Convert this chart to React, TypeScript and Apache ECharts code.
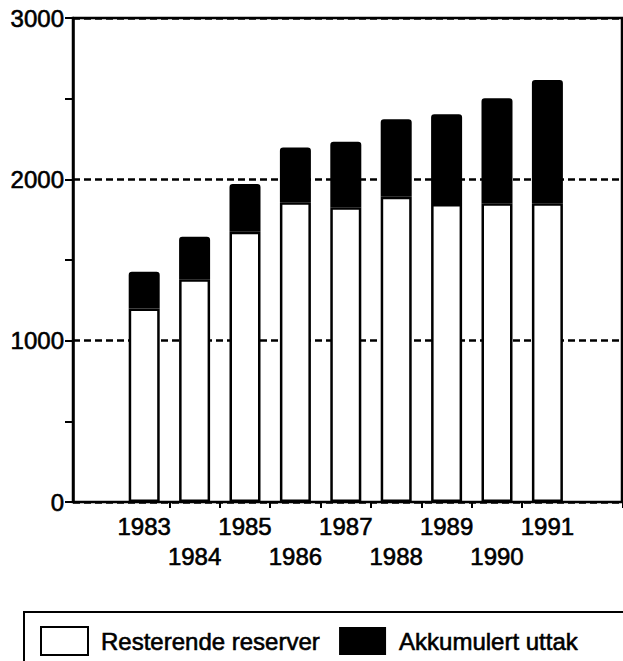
import React, { useEffect, useRef } from "react";
import * as echarts from "echarts";

const years = ["1983", "1984", "1985", "1986", "1987", "1988", "1989", "1990", "1991"];
const resterendeReserver = [1200, 1380, 1675, 1858, 1827, 1892, 1847, 1851, 1851];
const akkumulertUttak = [227, 264, 296, 340, 406, 480, 556, 651, 765];
const yTicks = [0, 1000, 2000, 3000];

const FONT = '"Liberation Sans", Arial, Helvetica, sans-serif';
const INK = { textBorderColor: "#000", textBorderWidth: 0.6 };

export default function App() {
  const ref = useRef<HTMLDivElement>(null);
  useEffect(() => {
    if (!ref.current) return;
    const chart = echarts.init(ref.current, null, { renderer: "svg" });
    const cats = [...years, ""];
    chart.setOption({
      animation: false,
      backgroundColor: "#fff",
      textStyle: { fontFamily: FONT },
      grid: [
        { left: 73, top: 18, width: 549, height: 484, show: true, borderColor: "#000", borderWidth: 2.5, backgroundColor: "transparent" },
        { left: 119, top: 18, width: 511, height: 484 },
      ],
      xAxis: [
        { gridIndex: 0, type: "value", min: 0, max: 1, show: false },
        {
          gridIndex: 1,
          type: "category",
          data: cats,
          axisLine: { show: false },
          axisTick: {
            show: true,
            length: 6,
            interval: (i: number) => i > 0 && i < years.length,
            lineStyle: { color: "#000", width: 2 },
          },
          axisLabel: {
            interval: 0,
            color: "#000",
            fontSize: 24,
            fontFamily: FONT,
            lineHeight: 30,
            margin: 9,
            ...INK,
            formatter: (v: string, i: number) => (i % 2 === 1 ? "\n" + v : v),
          },
        },
      ],
      yAxis: [
        {
          gridIndex: 0,
          type: "value",
          min: yTicks[0],
          max: yTicks[yTicks.length - 1],
          interval: 1000,
          axisLine: { show: true, lineStyle: { color: "#000", width: 2.5 } },
          axisTick: { show: true, length: 8, lineStyle: { color: "#000", width: 2 } },
          minorTick: { show: true, splitNumber: 2, length: 8, lineStyle: { color: "#000", width: 2 } },
          splitLine: { show: true, lineStyle: { color: "#000", width: 2.5, type: [7, 4] } },
          axisLabel: {
            color: "#000",
            fontSize: 24,
            fontFamily: FONT,
            margin: 9,
            padding: [5, 0, 0, 0],
            ...INK,
            formatter: (v: number) => String(v),
          },
        },
        { gridIndex: 1, type: "value", min: 0, max: 3000, show: false },
      ],
      legend: {
        left: 35,
        top: 621,
        orient: "horizontal",
        itemWidth: 47,
        itemHeight: 28,
        itemGap: 19,
        selectedMode: false,
        textStyle: { color: "#000", fontSize: 24, fontFamily: FONT, padding: [0, 0, 0, 8], ...INK },
        data: [
          { name: "Resterende reserver", icon: "rect", itemStyle: { color: "#fff", borderColor: "#000", borderWidth: 2 } },
          { name: "Akkumulert uttak", icon: "rect", itemStyle: { color: "#000", borderColor: "#000", borderWidth: 0 } },
        ],
      },
      graphic: [
        {
          type: "polyline",
          shape: { points: [[24, 661], [24, 612], [623, 612]] },
          style: { stroke: "#000", lineWidth: 2, fill: null },
        },
      ],
      series: [
        {
          name: "Resterende reserver",
          type: "bar",
          xAxisIndex: 1,
          yAxisIndex: 1,
          stack: "total",
          barWidth: 31,
          data: resterendeReserver,
          itemStyle: { color: "#fff", borderColor: "#000", borderWidth: 2.5 },
        },
        {
          name: "Akkumulert uttak",
          type: "bar",
          xAxisIndex: 1,
          yAxisIndex: 1,
          stack: "total",
          barWidth: 31,
          data: akkumulertUttak,
          itemStyle: { color: "#000", borderColor: "#000", borderWidth: 2.5, borderRadius: [2, 2, 0, 0] },
        },
      ],
    });
    return () => chart.dispose();
  }, []);
  return (
    <div
      ref={ref}
      style={{ position: "absolute", left: 0, top: 0, width: 623, height: 661, background: "#fff" }}
    />
  );
}
